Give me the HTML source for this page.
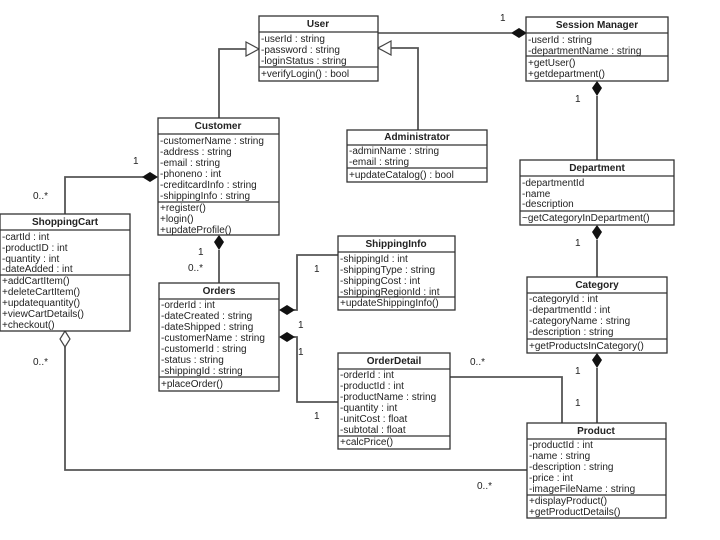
<!DOCTYPE html>
<html><head><meta charset="utf-8"><style>
html,body{margin:0;padding:0;background:#fff;width:720px;height:540px;overflow:hidden}
svg{display:block}
text{font-family:"Liberation Sans",sans-serif;font-size:10px;fill:#222}
.t{font-weight:bold;text-anchor:middle;font-size:10px}
.l{font-size:10px}
rect{fill:#fff;stroke:#333;stroke-width:1.3}
.c{stroke:#555;stroke-width:1.8;fill:none}
.s{stroke:#333;stroke-width:1.2}
</style></head><body>
<svg width="720" height="540" viewBox="0 0 720 540">
<polyline class="c" points="219,118 219,49 246,49"/>
<polygon points="246,42 259,49 246,56" fill="#fff" stroke="#444" stroke-width="1.2"/>
<polyline class="c" points="418,130 418,48 391,48"/>
<polygon points="391,41 378,48 391,55" fill="#fff" stroke="#444" stroke-width="1.2"/>
<line class="c" x1="378" y1="33" x2="512" y2="33" style="stroke:#222;stroke-width:1.3"/>
<polygon points="511,33 519,28 527,33 519,38" fill="#111"/>
<line class="c" x1="597" y1="96" x2="597" y2="160"/>
<polygon points="597,81 602,88 597,96 592,88" fill="#111"/>
<line class="c" x1="597" y1="240" x2="597" y2="277"/>
<polygon points="597,225 602,232 597,240 592,232" fill="#111"/>
<line class="c" x1="597" y1="368" x2="597" y2="423"/>
<polygon points="597,353 602,360 597,368 592,360" fill="#111"/>
<polyline class="c" points="143,177 65,177 65,214"/>
<polygon points="158,177 150,172 142,177 150,182" fill="#111"/>
<line class="c" x1="219" y1="250" x2="219" y2="283"/>
<polygon points="219,235 224,242 219,250 214,242" fill="#111"/>
<polyline class="c" points="65,347 65,470 527,470"/>
<polygon points="65,331 70,339 65,347 60,339" fill="#fff" stroke="#444" stroke-width="1.2"/>
<polyline class="c" points="294,310 297,310 297,255 338,255"/>
<polygon points="279,310 287,305 295,310 287,315" fill="#111"/>
<polyline class="c" points="294,337 297,337 297,402 338,402"/>
<polygon points="279,337 287,332 295,337 287,342" fill="#111"/>
<polyline class="c" points="450,377 562,377 562,423"/>
<text class="l" x="500" y="21">1</text>
<text class="l" x="575" y="102">1</text>
<text class="l" x="575" y="246">1</text>
<text class="l" x="575" y="374">1</text>
<text class="l" x="575" y="406">1</text>
<text class="l" x="133" y="164">1</text>
<text class="l" x="33" y="199">0..*</text>
<text class="l" x="198" y="255">1</text>
<text class="l" x="188" y="271">0..*</text>
<text class="l" x="314" y="272">1</text>
<text class="l" x="298" y="328">1</text>
<text class="l" x="298" y="355">1</text>
<text class="l" x="314" y="419">1</text>
<text class="l" x="33" y="365">0..*</text>
<text class="l" x="470" y="365">0..*</text>
<text class="l" x="477" y="489">0..*</text>
<rect x="259" y="16" width="119" height="65"/>
<line class="s" x1="259" y1="32" x2="378" y2="32"/><line class="s" x1="259" y1="67" x2="378" y2="67"/>
<text class="t" x="318" y="27">User</text>
<text x="261" y="42">-userId : string</text><text x="261" y="53">-password : string</text><text x="261" y="64">-loginStatus : string</text>
<text x="261" y="77">+verifyLogin() : bool</text>
<rect x="526" y="17" width="142" height="64"/>
<line class="s" x1="526" y1="33" x2="668" y2="33"/><line class="s" x1="526" y1="56" x2="668" y2="56"/>
<text class="t" x="597" y="28">Session Manager</text>
<text x="528" y="43">-userId : string</text><text x="528" y="54">-departmentName : string</text>
<text x="528" y="66">+getUser()</text><text x="528" y="77">+getdepartment()</text>
<rect x="158" y="118" width="121" height="117"/>
<line class="s" x1="158" y1="134" x2="279" y2="134"/><line class="s" x1="158" y1="202" x2="279" y2="202"/>
<text class="t" x="218" y="129">Customer</text>
<text x="160" y="144">-customerName : string</text><text x="160" y="155">-address : string</text><text x="160" y="166">-email : string</text><text x="160" y="177">-phoneno : int</text><text x="160" y="188">-creditcardInfo : string</text><text x="160" y="199">-shippingInfo : string</text>
<text x="160" y="211">+register()</text><text x="160" y="222">+login()</text><text x="160" y="233">+updateProfile()</text>
<rect x="347" y="130" width="140" height="52"/>
<line class="s" x1="347" y1="145" x2="487" y2="145"/><line class="s" x1="347" y1="168" x2="487" y2="168"/>
<text class="t" x="417" y="140">Administrator</text>
<text x="349" y="154">-adminName : string</text><text x="349" y="165">-email : string</text>
<text x="349" y="178">+updateCatalog() : bool</text>
<rect x="520" y="160" width="154" height="65"/>
<line class="s" x1="520" y1="176" x2="674" y2="176"/><line class="s" x1="520" y1="211" x2="674" y2="211"/>
<text class="t" x="597" y="171">Department</text>
<text x="522" y="186">-departmentId</text><text x="522" y="197">-name</text><text x="522" y="207">-description</text>
<text x="522" y="221">~getCategoryInDepartment()</text>
<rect x="0" y="214" width="130" height="117"/>
<line class="s" x1="0" y1="230" x2="130" y2="230"/><line class="s" x1="0" y1="275" x2="130" y2="275"/>
<text class="t" x="65" y="225">ShoppingCart</text>
<text x="2" y="240">-cartId : int</text><text x="2" y="251">-productID : int</text><text x="2" y="262">-quantity : int</text><text x="2" y="272">-dateAdded : int</text>
<text x="2" y="284">+addCartItem()</text><text x="2" y="295">+deleteCartItem()</text><text x="2" y="306">+updatequantity()</text><text x="2" y="317">+viewCartDetails()</text><text x="2" y="328">+checkout()</text>
<rect x="338" y="236" width="117" height="74"/>
<line class="s" x1="338" y1="252" x2="455" y2="252"/><line class="s" x1="338" y1="297" x2="455" y2="297"/>
<text class="t" x="396" y="247">ShippingInfo</text>
<text x="340" y="262">-shippingId : int</text><text x="340" y="273">-shippingType : string</text><text x="340" y="284">-shippingCost : int</text><text x="340" y="295">-shippingRegionId : int</text>
<text x="340" y="306">+updateShippingInfo()</text>
<rect x="527" y="277" width="140" height="76"/>
<line class="s" x1="527" y1="293" x2="667" y2="293"/><line class="s" x1="527" y1="339" x2="667" y2="339"/>
<text class="t" x="597" y="288">Category</text>
<text x="529" y="302">-categoryId : int</text><text x="529" y="313">-departmentId : int</text><text x="529" y="324">-categoryName : string</text><text x="529" y="335">-description : string</text>
<text x="529" y="349">+getProductsInCategory()</text>
<rect x="159" y="283" width="120" height="108"/>
<line class="s" x1="159" y1="299" x2="279" y2="299"/><line class="s" x1="159" y1="377" x2="279" y2="377"/>
<text class="t" x="219" y="294">Orders</text>
<text x="161" y="308">-orderId : int</text><text x="161" y="319">-dateCreated : string</text><text x="161" y="330">-dateShipped : string</text><text x="161" y="341">-customerName : string</text><text x="161" y="352">-customerId : string</text><text x="161" y="363">-status : string</text><text x="161" y="374">-shippingId : string</text>
<text x="161" y="387">+placeOrder()</text>
<rect x="338" y="353" width="112" height="96"/>
<line class="s" x1="338" y1="369" x2="450" y2="369"/><line class="s" x1="338" y1="436" x2="450" y2="436"/>
<text class="t" x="394" y="364">OrderDetail</text>
<text x="340" y="378">-orderId : int</text><text x="340" y="389">-productId : int</text><text x="340" y="400">-productName : string</text><text x="340" y="411">-quantity : int</text><text x="340" y="422">-unitCost : float</text><text x="340" y="433">-subtotal : float</text>
<text x="340" y="445">+calcPrice()</text>
<rect x="527" y="423" width="139" height="95"/>
<line class="s" x1="527" y1="439" x2="666" y2="439"/><line class="s" x1="527" y1="495" x2="666" y2="495"/>
<text class="t" x="596" y="434">Product</text>
<text x="529" y="448">-productId : int</text><text x="529" y="459">-name : string</text><text x="529" y="470">-description : string</text><text x="529" y="481">-price : int</text><text x="529" y="492">-imageFileName : string</text>
<text x="529" y="504">+displayProduct()</text><text x="529" y="515">+getProductDetails()</text>
</svg>
</body></html>
